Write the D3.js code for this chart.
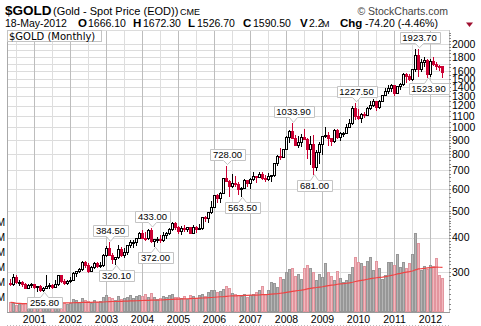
<!DOCTYPE html>
<html><head><meta charset="utf-8">
<script src="https://cdn.jsdelivr.net/npm/d3@7"></script>
<style>body{margin:0;background:#fff}svg{display:block}</style>
</head><body>
<svg id="c" width="481" height="326"></svg>
<script>
// ---------- DATA (monthly, May 2000 .. May 2012) ----------
const firstMonth = "2000-05", lastMonth = "2012-05";
const opens = [
 274,272,288,276,277,273,264,269,
 272,265,267,258,264,267,270,266,273,293,279,275,
 279,282,297,302,309,326,318,304,312,324,317,318,
 347,368,347,334,339,364,346,354,375,385,386,398,
 416,400,397,427,388,394,395,391,408,416,428,453,
 438,422,435,428,436,417,437,429,433,473,470,496,
 517,568,556,582,654,643,613,632,623,599,604,646,
 632,651,665,663,679,658,650,665,673,743,789,783,
 834,923,971,917,864,886,926,912,833,871,718,815,
 869,928,942,916,891,978,926,954,955,1001,1040,1180,
 1096,1081,1117,1113,1180,1207,1244,1181,1246,1307,1357,1386,
 1421,1332,1410,1439,1556,1536,1500,1628,1828,1620,1725,1746,
 1566,1738,1697,1669,1666.1];
const highs = [
 283,295,293,282,279,275,272,275,
 273,268,269,265,293,275,272,280,294,294,284,282,
 287,301,303,310,328,330,323,316,327,326,326,349,
 372,384.5,353,341,375,369,368,376,391,392,399,418,
 427,419,428,433,396,402,410,418,420,433,455,456,
 439,440,446,438,436,443,439,448,474,480,496,541,
 570,574,584,654,728,646,678,665,634,610,649,648,
 658,690,670,692,690,674,683,675,745,795,845,838,
 932,976,1033.9,937,931,946,988,917,934,936,827,884,
 933,1006,962,917,983,989,960,966,1025,1070,1195,1227.5,
 1162,1127,1137,1183,1249,1265,1245,1252,1312,1388,1424,1431,
 1424,1415,1447,1576,1577,1561,1632,1913,1923.7,1764,1803,1764,
 1764,1791,1722,1677,1672.3];
const lows = [
 270,270,275,270,268,263,263,266,
 262,256,257,255.8,263,263,263,265,270,277,271,272,
 277,281,290,300,305,313,301,302,310,312,313,316,
 342,345,324,320.1,337,342,341,350,370,370,376,398,
 399,393,395,384,372,386,387,389,397,412,427,429,
 417,412,424,423,414,414,418,429,431,460,455,490,
 515,537,539,580,641,565,610,612,573,563.5,606,612,
 603,648,637,664,651,640,648,643,670,730,771,782,
 834,887,914,864,849,855,908,775,736,681,704,743,
 802,924,865,865,884,913,904,932,951,1000,1033,1075,
 1073,1044,1088,1111,1163,1199,1157,1175,1242,1311,1330,1359,
 1310,1328,1381,1418,1462,1478,1480,1604,1535,1600,1673,1523.9,
 1538,1687,1627,1612,1526.7];
const closes = [
 272,288,276,277,273,264,269,272,
 265,267,258,264,267,270,266,273,293,279,275,279,
 282,297,302,309,326,318,304,312,324,317,318,347,
 368,347,334,339,364,346,354,375,385,386,398,416,
 400,397,427,388,394,395,391,408,416,428,453,438,
 422,435,428,436,417,437,429,433,473,470,496,517,
 568,556,582,654,643,613,632,623,599,604,646,632,
 651,665,663,679,658,650,665,673,743,789,783,834,
 923,971,917,864,886,926,912,833,871,718,815,869,
 928,942,916,891,978,926,954,955,1001,1040,1180,1096,
 1081,1117,1113,1180,1207,1244,1181,1246,1307,1357,1386,1421,
 1332,1410,1439,1556,1536,1500,1628,1828,1620,1725,1746,1566,
 1738,1697,1669,1664,1590.5];
const volumes = [
 0.65,0.6,0.48,0.55,0.52,0.6,0.5,0.65,
 0.6,0.55,0.65,0.55,0.75,0.5,0.55,0.6,0.95,0.75,0.6,0.55,
 0.6,0.85,0.8,0.65,0.95,0.8,0.75,0.6,0.8,0.65,0.75,1.0,
 1.15,1.0,0.95,0.8,1.05,0.85,0.95,1.0,1.15,0.95,1.05,1.15,
 1.05,1.2,1.0,1.25,1.0,0.85,0.95,1.05,1.0,1.15,1.2,1.0,
 1.0,0.95,1.05,0.85,1.15,1.05,0.95,1.15,1.2,1.05,1.35,1.45,
 1.45,1.35,1.4,1.55,1.75,1.6,1.25,1.2,1.15,1.05,1.2,1.0,
 1.15,1.2,1.35,1.45,1.75,1.2,1.45,2.0,1.95,1.65,2.35,2.2,
 2.65,2.85,2.95,2.4,2.55,2.2,2.95,3.15,2.95,2.65,2.15,2.55,
 2.35,3.3,2.65,2.4,2.15,2.75,2.25,2.0,2.15,2.55,3.0,3.65,
 3.35,3.25,3.05,3.4,3.65,2.8,3.4,2.95,2.2,2.45,3.35,3.35,
 3.15,3.85,3.0,3.35,2.95,3.25,3.85,5.25,4.6,2.8,3.05,2.85,
 3.15,3.05,3.6,2.5,2.3];
const volMAPeriod = 50;
const priceTickLabels = [2000,1800,1600,1500,1400,1300,1200,1100,1000,900,800,700,600,500,400,300];
const priceGridValues = [300,400,500,600,700,800,900,1000,1100,1200,1300,1400,1500,1600,1700,1800,1900,2000];
const volTickLabels = ["1M","2M","3M","4M","5M","6M"];
const volTickValues = [1,2,3,4,5,6];
const annMonths = ["2001-04","2003-02","2003-04","2004-04","2004-05","2006-05","2006-10","2008-03","2008-10","2009-12","2011-09","2011-12"];
const annValues = [255.80,384.50,320.10,433.00,372.00,728.00,563.50,1033.90,681.00,1227.50,1923.70,1523.90];
const annKinds  = ["low","high","low","high","low","high","low","high","low","high","high","low"];

// ---------- SETUP ----------
const fmtKey = d3.timeFormat("%Y-%m"), parseKey = d3.timeParse("%Y-%m");
const months = d3.timeMonth.range(parseKey(firstMonth), d3.timeMonth.offset(parseKey(lastMonth),1)).map(fmtKey);
const data = months.map((k,i)=>({k, o:opens[i], h:highs[i], l:lows[i], c:closes[i], v:volumes[i]}));

const F = "'Liberation Sans', Arial, Helvetica, sans-serif";
const L = 7, R = 449, T = 30, B = 312;
const RED = "#cc0033";
const svg = d3.select("#c");

const x = d3.scaleBand().domain(months).range([9, 444]).padding(0);
const cx = k => x(k) + x.bandwidth()/2;
const y = d3.scaleLog().domain([215.4, 2249]).range([B, T]);
const yv = d3.scaleLinear().domain([0, 6]).range([B, 222]);

// ---------- GRID ----------
const hg = svg.append("g").attr("transform", `translate(${L},0)`)
  .call(d3.axisRight(y).tickValues(priceGridValues).tickSize(R-L).tickFormat(""));
hg.select(".domain").remove();
hg.selectAll("line").attr("stroke","#dcdcdc").attr("shape-rendering","crispEdges");

const gridMonths = months.filter(k => k.endsWith("-01") || k.endsWith("-07"));
const vg = svg.append("g").attr("transform", `translate(0,${B})`)
  .call(d3.axisBottom(x).tickValues(gridMonths).tickSize(-(B-T)).tickFormat(""));
vg.select(".domain").remove();
vg.selectAll(".tick line").attr("stroke", d => d.endsWith("-01") ? "#bdbdbd" : "#dedede")
  .attr("shape-rendering","crispEdges");

// ---------- VOLUME ----------
const vGroup = svg.append("g");
data.forEach((d,i) => {
  const up = i === 0 ? d.c >= d.o : d.c >= data[i-1].c;
  const top = Math.round(yv(d.v));
  vGroup.append("rect")
    .attr("x", cx(d.k)-1).attr("y", top+0.5)
    .attr("width", 2).attr("height", Math.max(B - top - 0.5, 0))
    .attr("fill", up ? "#b5b5b5" : "#f0b8be")
    .attr("stroke", up ? "#979797" : "#e3959e").attr("stroke-width",1);
});
const ma = data.map((d,i) => {
  const s = data.slice(Math.max(0,i-volMAPeriod+1), i+1);
  return {k:d.k, v:d3.mean(s, e=>e.v)};
});
svg.append("path").datum(ma)
  .attr("d", d3.line().x(d=>cx(d.k)).y(d=>yv(d.v)))
  .attr("fill","none").attr("stroke","#ee4444").attr("stroke-width",1.2);

// left volume labels (mostly clipped)
svg.append("g").selectAll("text").data(volTickValues).join("text")
  .attr("x", 5).attr("y", d=>yv(d)+3.5).attr("text-anchor","end")
  .attr("font-family",F).attr("font-size",10).attr("fill","#000")
  .text((d,i)=>volTickLabels[i]);

// ---------- CANDLES ----------
const cg = svg.append("g");
data.forEach((d,i) => {
  const up = d.c >= d.o;
  const col = up ? "#000" : RED;
  const xc = cx(d.k);
  cg.append("line").attr("x1",xc).attr("x2",xc)
    .attr("y1", Math.round(y(d.h))).attr("y2", Math.round(y(d.l))+1)
    .attr("stroke", col).attr("stroke-width",1);
  const yt = Math.round(y(Math.max(d.o,d.c))), yb = Math.round(y(Math.min(d.o,d.c)));
  cg.append("rect").attr("x", xc-1).attr("y", yt+0.5)
    .attr("width", 2).attr("height", Math.max(yb-yt,1))
    .attr("fill", up ? "#fff" : RED).attr("stroke", col).attr("stroke-width",1);
});

// ---------- AXES / FRAME ----------
svg.append("line").attr("x1",L+0.5).attr("x2",L+0.5).attr("y1",T).attr("y2",B)
  .attr("stroke","#aaa");
svg.append("line").attr("x1",L).attr("x2",R+1).attr("y1",B+0.5).attr("y2",B+0.5)
  .attr("stroke","#999");
svg.append("line").attr("x1",R+0.5).attr("x2",R+0.5).attr("y1",T).attr("y2",B)
  .attr("stroke","#c4c4c4");
svg.append("line").attr("x1",L).attr("x2",R).attr("y1",T+0.5).attr("y2",T+0.5)
  .attr("stroke","#dcdcdc");
svg.append("line").attr("x1",L).attr("x2",R).attr("y1",325.5).attr("y2",325.5)
  .attr("stroke","#bbb").attr("stroke-dasharray","1,2");

const minorVals = d3.range(220,500,10).concat(d3.range(500,1000,20)).concat(d3.range(1000,2250,50));
const mg = svg.append("g").attr("transform",`translate(${R},0)`)
  .call(d3.axisRight(y).tickValues(minorVals).tickSize(2).tickFormat(""));
mg.select(".domain").remove();
mg.selectAll("line").attr("stroke","#888").attr("shape-rendering","crispEdges");

const ra = svg.append("g").attr("transform",`translate(${R},0)`)
  .call(d3.axisRight(y).tickValues(priceTickLabels).tickSize(0).tickPadding(3).tickFormat(d3.format("d")));
ra.select(".domain").remove();
ra.selectAll("text").attr("font-family",F).attr("font-size",10.5).attr("fill","#000");

const yearMonths = months.filter(k => k.endsWith("-01"));
const ba = svg.append("g").attr("transform",`translate(0,${B})`)
  .call(d3.axisBottom(x).tickValues(yearMonths).tickSize(0).tickPadding(4).tickFormat(k=>k.slice(0,4)));
ba.select(".domain").remove();
ba.selectAll("text").attr("font-family",F).attr("font-size",10.5).attr("fill","#000");

// ---------- ANNOTATIONS ----------
const ag = svg.append("g");
annMonths.forEach((k,i) => {
  const v = annValues[i], kind = annKinds[i];
  const xc = Math.round(cx(k)) + 0.5, yp = y(v);
  const t = ag.append("text").attr("font-family",F).attr("font-size",9.5)
    .attr("text-anchor","middle").attr("x", xc).text(d3.format(".2f")(v));
  const tw = t.node().getComputedTextLength();
  const w = Math.round(tw + 6), h = 11;
  const x0 = Math.round(xc - w/2) + 0.5, x1 = x0 + w;
  let p, ty;
  if (kind === "high") {
    const yb = Math.round(yp - 6) + 0.5, yt = yb - h, tip = yp - 1;
    p = `M${x0},${yt}H${x1}V${yb}H${xc+4}L${xc},${tip}L${xc-4},${yb}H${x0}Z`;
    ty = yb - 2.5;
  } else {
    const yt = Math.round(yp + 6) + 0.5, yb = yt + h, tip = yp + 1;
    p = `M${x0},${yt}H${xc-4}L${xc},${tip}L${xc+4},${yt}H${x1}V${yb}H${x0}Z`;
    ty = yb - 2.5;
  }
  ag.insert("path", () => t.node()).attr("d", p).attr("fill","#fff").attr("stroke","#c4c4c4");
  t.attr("y", ty);
});

// ---------- TITLE BOX ----------
svg.append("rect").attr("x",L+0.5).attr("y",T+0.5).attr("width",94).attr("height",11)
  .attr("fill","#fff").attr("stroke","#c4c4c4");
svg.append("text").attr("x",9).attr("y",T+9.5).attr("font-family","'DejaVu Sans', Verdana, sans-serif")
  .attr("font-size",10).text("$GOLD (Monthly)");

// ---------- HEADER ----------
svg.append("text").attr("x",5).attr("y",15).attr("font-family",F).attr("font-weight","bold")
  .attr("font-size",13.5).text("$GOLD");
svg.append("text").attr("x",53).attr("y",15).attr("font-family",F).attr("font-size",11).text("(Gold - Spot Price (EOD))");
svg.append("text").attr("x",180).attr("y",15).attr("font-family",F).attr("font-size",9).text("CME");
svg.append("text").attr("x",448).attr("y",15).attr("text-anchor","end").attr("font-family",F)
  .attr("font-size",10.5).attr("fill","#444").text("© StockCharts.com");

const hdr = [
  {x:5, t:"18-May-2012", b:false},
  {x:78, t:"O", b:true}, {x:88, t:"1666.10", b:false},
  {x:133, t:"H", b:true}, {x:143, t:"1672.30", b:false},
  {x:188, t:"L", b:true}, {x:197, t:"1526.70", b:false},
  {x:243, t:"C", b:true}, {x:253, t:"1590.50", b:false},
  {x:300, t:"V", b:true}, {x:309, t:"2.2", b:false}, {x:322, t:"M", b:false, s:9},
  {x:340, t:"Chg", b:true}, {x:365, t:"-74.20 (-4.46%)", b:false}
];
hdr.forEach(h => svg.append("text").attr("x",h.x).attr("y",27).attr("font-family",F)
  .attr("font-size", h.s || (h.b ? 11.5 : 10.5)).attr("font-weight", h.b ? "bold" : "normal").text(h.t));
svg.append("path").attr("d","M466,22.5H473L469.5,27Z").attr("fill","#a01030");
</script>
</body></html>
